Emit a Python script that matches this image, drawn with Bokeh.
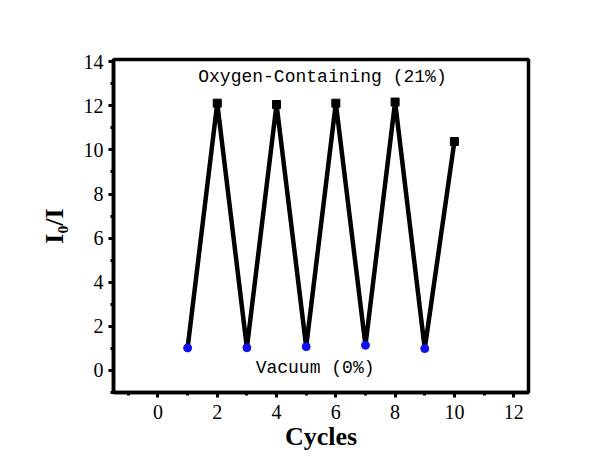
from bokeh.plotting import figure
from bokeh.models import Label, FixedTicker
from bokeh.embed import file_html
from bokeh.resources import INLINE

# Data
cycles_o2 = [2, 4, 6, 8, 10]
ratio_o2 = [12.12, 12.06, 12.12, 12.17, 10.38]
cycles_vac = [1, 3, 5, 7, 9]
ratio_vac = [1.02, 1.03, 1.08, 1.14, 0.99]
all_cycles = [1, 2, 3, 4, 5, 6, 7, 8, 9, 10]
all_ratio = [1.02, 12.12, 1.03, 12.06, 1.08, 12.12, 1.14, 12.17, 0.99, 10.38]
x_ticks = [0, 2, 4, 6, 8, 10, 12]
y_ticks = [0, 2, 4, 6, 8, 10, 12, 14]
label_top = "Oxygen-Containing (21%)"
label_bottom = "Vacuum (0%)"

p = figure(width=601, height=460, x_range=(-1.5, 12.5), y_range=(-1, 14.1),
           output_backend="svg", toolbar_location=None,
           min_border_left=113, min_border_right=73,
           min_border_top=59, min_border_bottom=68)

p.background_fill_color = "white"
p.border_fill_color = "white"
p.outline_line_color = "black"
p.outline_line_width = 3.5
p.xgrid.visible = False
p.ygrid.visible = False

p.line(all_cycles, all_ratio, line_color="black", line_width=4.5)
p.scatter(cycles_o2, ratio_o2, marker="square", size=8, color="black")
p.scatter(cycles_vac, ratio_vac, marker="circle", size=8, color="#1010ee")

for ax in (p.xaxis[0], p.yaxis[0]):
    ax.axis_line_width = 3.5
    ax.axis_line_color = "black"
    ax.major_tick_line_width = 3
    ax.minor_tick_line_width = 3
    ax.major_tick_in = 0
    ax.major_tick_out = 5
    ax.minor_tick_in = 0
    ax.minor_tick_out = 3
    ax.major_label_text_font = "Liberation Serif"
    ax.major_label_text_font_size = "20px"
    ax.major_label_text_color = "black"
    ax.axis_label_text_font = "Liberation Serif"
    ax.axis_label_text_font_style = "bold"
    ax.axis_label_text_font_size = "26px"
    ax.axis_label_text_color = "black"

p.xaxis[0].ticker = FixedTicker(ticks=x_ticks, minor_ticks=[-1, 1, 3, 5, 7, 9, 11])
p.yaxis[0].ticker = FixedTicker(ticks=y_ticks, minor_ticks=[-1, 1, 3, 5, 7, 9, 11, 13])
p.xaxis[0].axis_label = "Cycles"
p.yaxis[0].axis_label = "I\u2080/I"
p.xaxis[0].major_label_standoff = 7
p.xaxis[0].axis_label_standoff = 0
p.yaxis[0].major_label_standoff = 5
p.yaxis[0].axis_label_standoff = 12

p.add_layout(Label(x=5.55, y=13.3, text=label_top, text_font="Liberation Mono",
                   text_font_size="18px", text_align="center", text_baseline="middle",
                   text_color="black"))
p.add_layout(Label(x=5.3, y=0.12, text=label_bottom, text_font="Liberation Mono",
                   text_font_size="18px", text_align="center", text_baseline="middle",
                   text_color="black"))

open("out.html", "w").write(file_html(p, INLINE))
